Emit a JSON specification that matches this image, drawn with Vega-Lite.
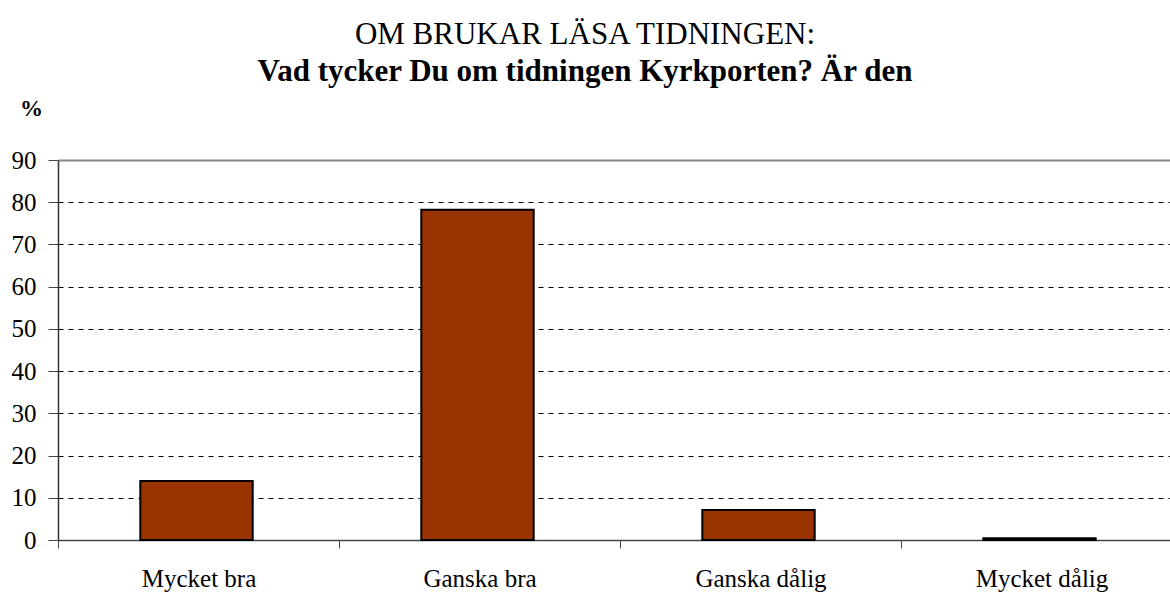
{
  "$schema": "https://vega.github.io/schema/vega-lite/v6.json",
  "width": 1124,
  "height": 380,
  "autosize": {"type": "none"},
  "padding": {"left": 58, "top": 160, "right": 0, "bottom": 52},
  "background": "white",
  "title": {
    "text": "OM BRUKAR LÄSA TIDNINGEN:",
    "subtitle": "Vad tycker Du om tidningen Kyrkporten? Är den",
    "font": "Liberation Serif",
    "fontSize": 31,
    "fontWeight": "normal",
    "color": "black",
    "subtitleFont": "Liberation Serif",
    "subtitleFontSize": 31,
    "subtitleFontWeight": "bold",
    "subtitleColor": "black",
    "subtitlePadding": 6,
    "anchor": "middle",
    "frame": "group",
    "dx": -35,
    "offset": 9
  },
  "data": {
    "values": [
      {"svar": "Mycket bra", "procent": 14.0},
      {"svar": "Ganska bra", "procent": 78.2},
      {"svar": "Ganska dålig", "procent": 7.1},
      {"svar": "Mycket dålig", "procent": 0.4}
    ]
  },
  "mark": {"type": "bar", "color": "#993300", "stroke": "black", "strokeWidth": 2, "width": {"band": 0.4}, "xOffset": -2},
  "encoding": {
    "x": {
      "field": "svar",
      "type": "nominal",
      "sort": null,
      "scale": {"paddingInner": 0, "paddingOuter": 0},
      "axis": {
        "title": null,
        "labelAngle": 0,
        "labelFont": "Liberation Serif",
        "labelFontSize": 25,
        "labelColor": "black",
        "labelPadding": 18,
        "tickBand": "extent",
        "tickSize": 8,
        "tickColor": "#444",
        "domainColor": "#444",
        "domainWidth": 1.5,
        "grid": false
      }
    },
    "y": {
      "field": "procent",
      "type": "quantitative",
      "scale": {"domain": [0, 90], "nice": false},
      "axis": {
        "title": "%",
        "titleAngle": 0,
        "titleFont": "Liberation Serif",
        "titleFontSize": 23,
        "titleFontWeight": "bold",
        "titleColor": "black",
        "titleX": -27,
        "titleY": -40,
        "titleAlign": "center",
        "values": [0, 10, 20, 30, 40, 50, 60, 70, 80, 90],
        "labelFont": "Liberation Serif",
        "labelFontSize": 25,
        "labelColor": "black",
        "labelPadding": 12,
        "tickSize": 10,
        "tickColor": "#444",
        "domainColor": "#333",
        "domainWidth": 1.5,
        "grid": true,
        "gridColor": {"condition": {"test": "datum.value === 90", "value": "#888"}, "value": "black"},
        "gridDash": {"condition": {"test": "datum.value === 90", "value": []}, "value": [5, 5]},
        "gridWidth": {"condition": {"test": "datum.value === 90", "value": 2}, "value": 1}
      }
    }
  },
  "config": {"view": {"stroke": null}}
}
